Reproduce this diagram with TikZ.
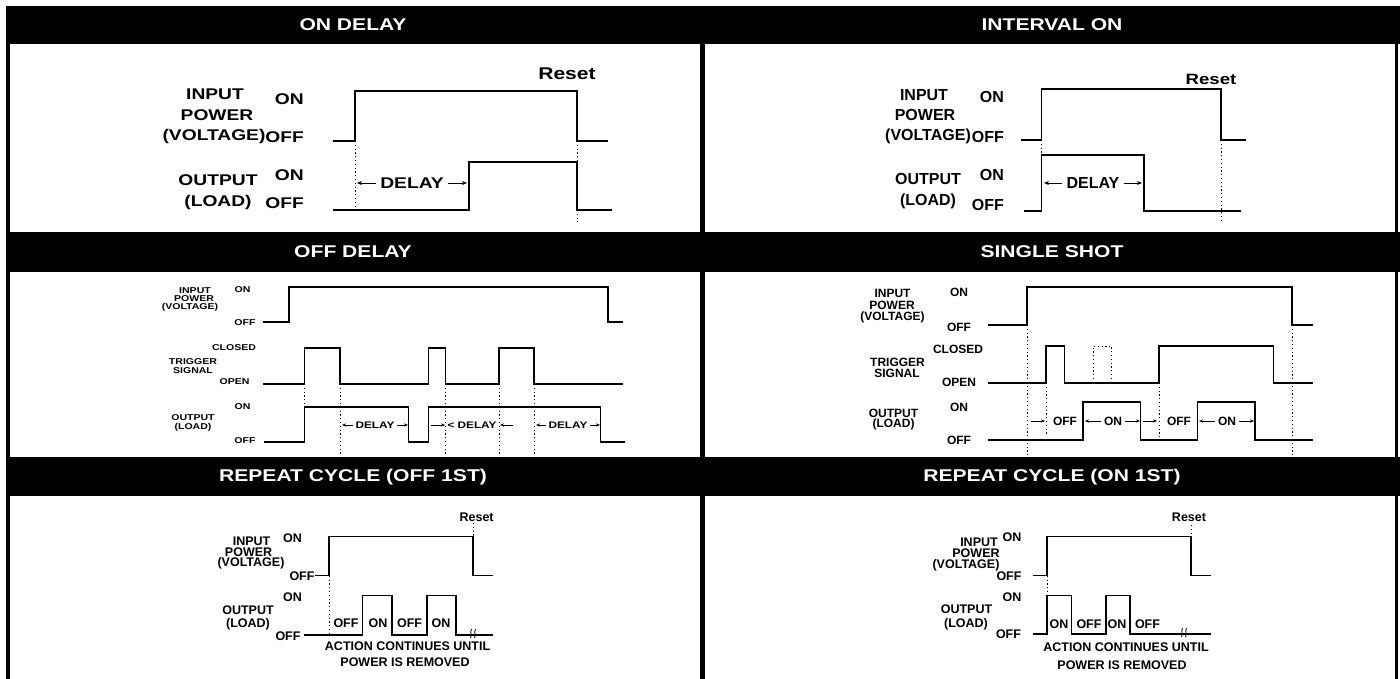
\documentclass[tikz,border=0pt]{standalone}
\usepackage{fontspec}
\setmainfont{Liberation Sans}
\newfontfamily\fA[FakeStretch=1.24]{Liberation Sans}
\newfontfamily\fB{Liberation Sans}
\usetikzlibrary{arrows.meta}
\begin{document}
\begin{tikzpicture}[x=1pt,y=-1pt,
  wave/.style={line width=1.8pt},
  wavethin/.style={line width=1.3pt},
  dotl/.style={line width=0.9pt, dash pattern=on 1.2pt off 2.6pt},
  hdr/.style={fill=black, draw=none},
  ttl/.style={text=white, inner sep=0pt, font=\fA\bfseries\fontsize{17}{17}\selectfont},
  lA/.style={inner sep=0pt, font=\fA\bfseries\fontsize{15.5}{15.5}\selectfont},
  lB/.style={inner sep=0pt, font=\fB\bfseries\fontsize{16}{16}\selectfont},
  lC/.style={inner sep=0pt, font=\fA\bfseries\fontsize{8.5}{8.5}\selectfont},
  lCd/.style={inner sep=0pt, font=\fA\bfseries\fontsize{9.5}{9.5}\selectfont},
  lD/.style={inner sep=0pt, font=\fB\bfseries\fontsize{12}{12}\selectfont},
  lE/.style={inner sep=0pt, font=\fB\bfseries\fontsize{12.5}{12.5}\selectfont},
  arr/.style={-{Stealth[length=5pt,width=4pt]}, line width=0.9pt},
  arrs/.style={-{Stealth[length=4pt,width=3.2pt]}, line width=0.8pt},
]
\fill[white] (0,0) rectangle (1400,679);
\useasboundingbox (0,0) rectangle (1400,679);
% frame
\fill (6,6) rectangle (10,679);
\fill (1395,6) rectangle (1397.5,679);
\fill (700,6) rectangle (705,679);
\path[hdr] (6,6) rectangle (1400,44);
\path[hdr] (6,232) rectangle (1400,272);
\path[hdr] (6,457) rectangle (1400,496);
% titles
\node[ttl] (t1) at (353,25) {ON DELAY};
\node[ttl] (t2) at (1052,25) {INTERVAL ON};
\node[ttl] (t3) at (353,252) {OFF DELAY};
\node[ttl] (t4) at (1052,252) {SINGLE SHOT};
\node[ttl] (t5) at (353,477) {REPEAT CYCLE (OFF 1ST)};
\node[ttl] (t6) at (1052,477) {REPEAT CYCLE (ON 1ST)};

% ================= Panel 1: ON DELAY
\draw[wave] (333,141) -- (355,141) -- (355,91) -- (577,91) -- (577,141) -- (608,141);
\draw[wave] (333,210) -- (469,210) -- (469,162) -- (577,162) -- (577,210) -- (612,210);
\draw[dotl] (355,141) -- (355,210);
\draw[dotl] (577,141) -- (577,162);
\draw[dotl] (577,210) -- (577,222);
\node[lA, font=\fA\bfseries\fontsize{17}{17}\selectfont] (r1) at (567,74) {Reset};
\node[lA] (a1) at (215,94) {INPUT};
\node[lA] (a2) at (217,115) {POWER};
\node[lA] (a3) at (214,136) {(VOLTAGE)};
\node[lA, anchor=east] (a4) at (304,99) {ON};
\node[lA, anchor=east] (a5) at (304,137) {OFF};
\node[lA] (a6) at (218,180) {OUTPUT};
\node[lA] (a7) at (218,202) {(LOAD)};
\node[lA, anchor=east] (a8) at (304,175) {ON};
\node[lA, anchor=east] (a9) at (304,203) {OFF};
\node[lA] (d1) at (412,183) {DELAY};
\coordinate (d1l) at (357,183);
\coordinate (d1r) at (467,183);
\draw[arr] ([xshift=-4pt]d1.west) -- (d1l);
\draw[arr] ([xshift=4pt]d1.east) -- (d1r);

% ================= Panel 2: INTERVAL ON
\draw[wave] (1021,140) -- (1041.5,140) -- (1041.5,89) -- (1221,89) -- (1221,140) -- (1245.5,140);
\draw[wave] (1024,211) -- (1041.5,211) -- (1041.5,155) -- (1144,155) -- (1144,211) -- (1241,211);
\draw[dotl] (1041.5,140) -- (1041.5,155);
\draw[dotl] (1221,140) -- (1221,222);
\node[inner sep=0pt, font=\fA\bfseries\fontsize{15}{15}\selectfont] (r2) at (1211,79) {Reset};
\node[lB] (b1) at (924,95) {INPUT};
\node[lB] (b2) at (925,115) {POWER};
\node[lB] (b3) at (928,136) {(VOLTAGE)};
\node[lB, anchor=east] (b4) at (1004,97) {ON};
\node[lB, anchor=east] (b5) at (1004,137) {OFF};
\node[lB] (b6) at (928,179) {OUTPUT};
\node[lB] (b7) at (928,201) {(LOAD)};
\node[lB, anchor=east] (b8) at (1004,175) {ON};
\node[lB, anchor=east] (b9) at (1004,205) {OFF};
\node[lB] (d2) at (1093,183) {DELAY};
\coordinate (d2l) at (1044,183);
\coordinate (d2r) at (1142,183);
\draw[arr] ([xshift=-4pt]d2.west) -- (d2l);
\draw[arr] ([xshift=4pt]d2.east) -- (d2r);

% ================= Panel 3: OFF DELAY
\draw[wavethin] (263,322) -- (289,322) -- (289,287) -- (608,287) -- (608,322) -- (623,322);
\draw[wavethin] (263,384) -- (304.5,384) -- (304.5,348) -- (340,348) -- (340,384) -- (428.5,384) -- (428.5,348) -- (445.5,348) -- (445.5,384) -- (499,384) -- (499,348) -- (534,348) -- (534,384) -- (623,384);
\draw[wavethin] (264,442) -- (304.5,442) -- (304.5,407) -- (408.5,407) -- (408.5,442) -- (428.5,442) -- (428.5,407) -- (600.5,407) -- (600.5,442) -- (625,442);
\draw[dotl] (304.5,384) -- (304.5,407);
\draw[dotl] (340,384) -- (340,455);
\draw[dotl] (445.5,384) -- (445.5,455);
\draw[dotl] (499,384) -- (499,455);
\draw[dotl] (534,384) -- (534,455);
\node[lC] (c1) at (195,291) {INPUT};
\node[lC] (c2) at (194,299) {POWER};
\node[lC] (c3) at (190,307) {(VOLTAGE)};
\node[lC] (c4) at (242.5,290) {ON};
\node[lC] (c5) at (245,323) {OFF};
\node[lC] (c6) at (234,348) {CLOSED};
\node[lC] (c7) at (193,361.5) {TRIGGER};
\node[lC] (c8) at (193,371) {SIGNAL};
\node[lC] (c9) at (234.5,382) {OPEN};
\node[lC] (c10) at (242.5,407) {ON};
\node[lC] (c11) at (193,418) {OUTPUT};
\node[lC] (c12) at (193,427) {(LOAD)};
\node[lC] (c13) at (245,441) {OFF};
\node[lCd] (e1) at (375,425) {DELAY};
\coordinate (e1l) at (342,425);
\coordinate (e1r) at (408,425);
\draw[arrs] ([xshift=-2pt]e1.west) -- (e1l);
\draw[arrs] ([xshift=2pt]e1.east) -- (e1r);
\node[lCd] (e2) at (472,425) {< DELAY};
\coordinate (e2a) at (431,425);
\coordinate (e2b) at (445,425);
\coordinate (e2c) at (513,425);
\coordinate (e2d) at (500,425);
\draw[arrs] (e2a) -- (e2b);
\draw[arrs] (e2c) -- (e2d);
\node[lCd] (e3) at (568,425) {DELAY};
\coordinate (e3l) at (536,425);
\coordinate (e3r) at (600,425);
\draw[arrs] ([xshift=-2pt]e3.west) -- (e3l);
\draw[arrs] ([xshift=2pt]e3.east) -- (e3r);

% ================= Panel 4: SINGLE SHOT
\draw[wavethin] (988,325) -- (1027,325) -- (1027,287) -- (1292,287) -- (1292,325) -- (1312.5,325);
\draw[wavethin] (988,383) -- (1046,383) -- (1046,346) -- (1064.7,346) -- (1064.7,383) -- (1159,383) -- (1159,346) -- (1273.7,346) -- (1273.7,383) -- (1312.5,383);
\draw[dotl] (1093,383) -- (1093,346) -- (1111.6,346) -- (1111.6,383);
\draw[wavethin] (988,440) -- (1083,440) -- (1083,402) -- (1140.6,402) -- (1140.6,440) -- (1197.8,440) -- (1197.8,402) -- (1255,402) -- (1255,440) -- (1312.5,440);
\draw[dotl] (1027,325) -- (1027,457);
\draw[dotl] (1046,383) -- (1046,436);
\draw[dotl] (1159,383) -- (1159,440);
\draw[dotl] (1292,325) -- (1292,457);
\node[lD] (f1) at (892.5,293) {INPUT};
\node[lD] (f2) at (892,305) {POWER};
\node[lD] (f3) at (892.5,317) {(VOLTAGE)};
\node[lD] (f4) at (959,292) {ON};
\node[lD] (f5) at (959,327) {OFF};
\node[lD] (f6) at (958,349) {CLOSED};
\node[lD] (f7) at (897.5,362) {TRIGGER};
\node[lD] (f8) at (897,373) {SIGNAL};
\node[lD] (f9) at (959,382) {OPEN};
\node[lD] (f10) at (959,407) {ON};
\node[lD] (f11) at (893.5,413) {OUTPUT};
\node[lD] (f12) at (893.5,424) {(LOAD)};
\node[lD] (f13) at (959,440) {OFF};
\node[lD] (g1) at (1065,421) {OFF};
\node[lD] (g2) at (1113,421) {ON};
\node[lD] (g3) at (1179,421) {OFF};
\node[lD] (g4) at (1227,421) {ON};
\coordinate (g1a) at (1031,421);
\coordinate (g1b) at (1045,421);
\coordinate (g2a) at (1085,421);
\coordinate (g2b) at (1140,421);
\coordinate (g3a) at (1143,421);
\coordinate (g3b) at (1157,421);
\coordinate (g4a) at (1199,421);
\coordinate (g4b) at (1254,421);
\draw[arrs] (g1a) -- (g1b);
\draw[arrs] ([xshift=-3pt]g2.west) -- (g2a);
\draw[arrs] ([xshift=3pt]g2.east) -- (g2b);
\draw[arrs] (g3a) -- (g3b);
\draw[arrs] ([xshift=-3pt]g4.west) -- (g4a);
\draw[arrs] ([xshift=3pt]g4.east) -- (g4b);

% ================= Panel 5: REPEAT CYCLE (OFF 1ST)
\draw[wavethin] (315,575.7) -- (329,575.7) -- (329,536.7) -- (473,536.7) -- (473,575.7) -- (493,575.7);
\draw[wavethin] (304,635) -- (362.5,635) -- (362.5,595.7) -- (392,595.7) -- (392,635) -- (427,635) -- (427,595.7) -- (456,595.7) -- (456,635) -- (493,635);
\draw[dotl] (329,575.7) -- (329,635);
\draw[dotl] (473,523) -- (473,536.7);
\draw[line width=0.8pt] (470.5,638) .. controls (472.5,634) and (469.5,633) .. (471.5,629);
\draw[line width=0.8pt] (474.5,638) .. controls (476.5,634) and (473.5,633) .. (475.5,629);
\node[lE] (h0) at (476.6,517) {Reset};
\node[lE] (h1) at (251.6,541) {INPUT};
\node[lE] (h2) at (248.6,552) {POWER};
\node[lE] (h3) at (251,563.5) {(VOLTAGE)};
\node[lE] (h4) at (292.6,537.7) {ON};
\node[lE] (h5) at (302,576) {OFF};
\node[lE] (h6) at (292.6,596.7) {ON};
\node[lE] (h7) at (248,610) {OUTPUT};
\node[lE] (h8) at (248,624) {(LOAD)};
\node[lE] (h9) at (288,636) {OFF};
\node[lE] (i1) at (346,623) {OFF};
\node[lE] (i2) at (378,623) {ON};
\node[lE] (i3) at (409.6,623) {OFF};
\node[lE] (i4) at (441,623) {ON};
\node[lE] (i5) at (407.6,646.5) {ACTION CONTINUES UNTIL};
\node[lE] (i6) at (405,662.5) {POWER IS REMOVED};

% ================= Panel 6: REPEAT CYCLE (ON 1ST)
\draw[wavethin] (1032.6,575.7) -- (1047,575.7) -- (1047,536.7) -- (1191,536.7) -- (1191,575.7) -- (1211,575.7);
\draw[wavethin] (1032.6,634) -- (1047,634) -- (1047,595.7) -- (1071.4,595.7) -- (1071.4,634) -- (1106,634) -- (1106,595.7) -- (1130,595.7) -- (1130,634) -- (1211,634);
\draw[dotl] (1047,575.7) -- (1047,595.7);
\draw[dotl] (1191,525) -- (1191,536.7);
\draw[line width=0.8pt] (1181.5,637) .. controls (1183.5,633) and (1180.5,632) .. (1182.5,628);
\draw[line width=0.8pt] (1185.5,637) .. controls (1187.5,633) and (1184.5,632) .. (1186.5,628);
\node[lE] (j0) at (1189,517.7) {Reset};
\node[lE] (j1) at (979,542) {INPUT};
\node[lE] (j2) at (976,553.5) {POWER};
\node[lE] (j3) at (966,565) {(VOLTAGE)};
\node[lE] (j4) at (1012,537) {ON};
\node[lE] (j5) at (1009,576) {OFF};
\node[lE] (j6) at (1012,596.7) {ON};
\node[lE] (j7) at (966.5,609) {OUTPUT};
\node[lE] (j8) at (966,624) {(LOAD)};
\node[lE] (j9) at (1008.5,634.5) {OFF};
\node[lE] (k1) at (1059,624) {ON};
\node[lE] (k2) at (1089,624) {OFF};
\node[lE] (k3) at (1117,624) {ON};
\node[lE] (k4) at (1147.5,624) {OFF};
\node[lE] (k5) at (1126,647) {ACTION CONTINUES UNTIL};
\node[lE] (k6) at (1122,665) {POWER IS REMOVED};
\end{tikzpicture}
\end{document}
